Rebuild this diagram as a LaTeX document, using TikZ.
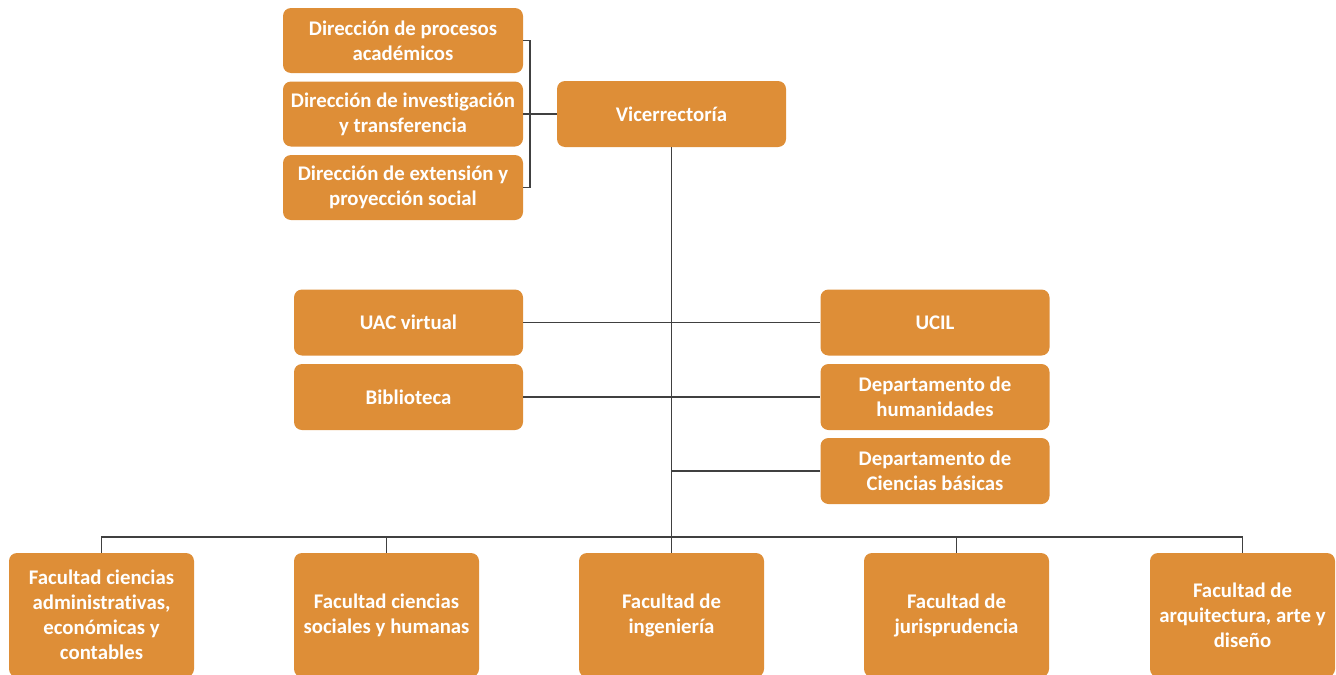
\documentclass[tikz,border=0pt]{standalone}
\usepackage{fontspec}
\setmainfont{Carlito}[Ligatures=CommonOff]
\usetikzlibrary{calc}
\definecolor{boxor}{HTML}{DE8E37}
\definecolor{lncol}{HTML}{404040}
\begin{document}
\begin{tikzpicture}[x=0.75pt,y=-0.75pt,
  box/.style={fill=boxor, rounded corners=6pt, text=white, align=center, inner sep=0pt,
    font=\fontsize{15.6}{18.8}\selectfont\bfseries},
  topbox/.style={box, minimum width=180pt, minimum height=48.75pt},
  midbox/.style={box, minimum width=171.75pt, minimum height=49.5pt},
  facbox/.style={box, minimum width=138.75pt, minimum height=93pt},
  conn/.style={draw=lncol, line width=1.35pt}]
\useasboundingbox (0,0) rectangle (1336,675);
\clip (0,0) rectangle (1336,675);

\node[topbox] (d1) at (403,40.5) {Dirección de procesos\\académicos};
\node[topbox] (d2) at (403,114) {Dirección de investigación\\y transferencia};
\node[topbox] (d3) at (403,187.5) {Dirección de extensión y\\proyección social};
\node[midbox] (vr) at (671.5,114) {Vicerrectoría};

\node[midbox] (uac) at (408.5,322.5) {UAC virtual};
\node[midbox] (bib) at (408.5,397) {Biblioteca};
\node[midbox] (ucil) at (935,322.5) {UCIL};
\node[midbox] (hum) at (935,397) {Departamento de\\humanidades};
\node[midbox] (cb) at (935,471) {Departamento de\\Ciencias básicas};

\node[facbox] (f1) at (101.5,615) {Facultad ciencias\\administrativas,\\económicas y\\contables};
\node[facbox] (f2) at (386.5,615) {Facultad ciencias\\sociales y humanas};
\node[facbox] (f3) at (671.5,615) {Facultad de\\ingeniería};
\node[facbox] (f4) at (956.5,615) {Facultad de\\jurisprudencia};
\node[facbox] (f5) at (1242.5,615) {Facultad de\\arquitectura, arte y\\diseño};

\coordinate (bus) at (671.5,537);
\coordinate (brk) at (530,114);

\draw[conn] (d1.east) -| (brk) |- (d3.east);
\draw[conn] (d2.east) -- (vr.west);
\draw[conn] (vr.south) -- (bus);
\draw[conn] (uac.east) -- (ucil.west);
\draw[conn] (bib.east) -- (hum.west);
\draw[conn] (cb.west) -- (cb.west -| bus);
\draw[conn] (f1.north) -- (f1.north |- bus) -- (f5.north |- bus) -- (f5.north);
\draw[conn] (f2.north) -- (f2.north |- bus);
\draw[conn] (f3.north) -- (bus);
\draw[conn] (f4.north) -- (f4.north |- bus);
\end{tikzpicture}
\end{document}
